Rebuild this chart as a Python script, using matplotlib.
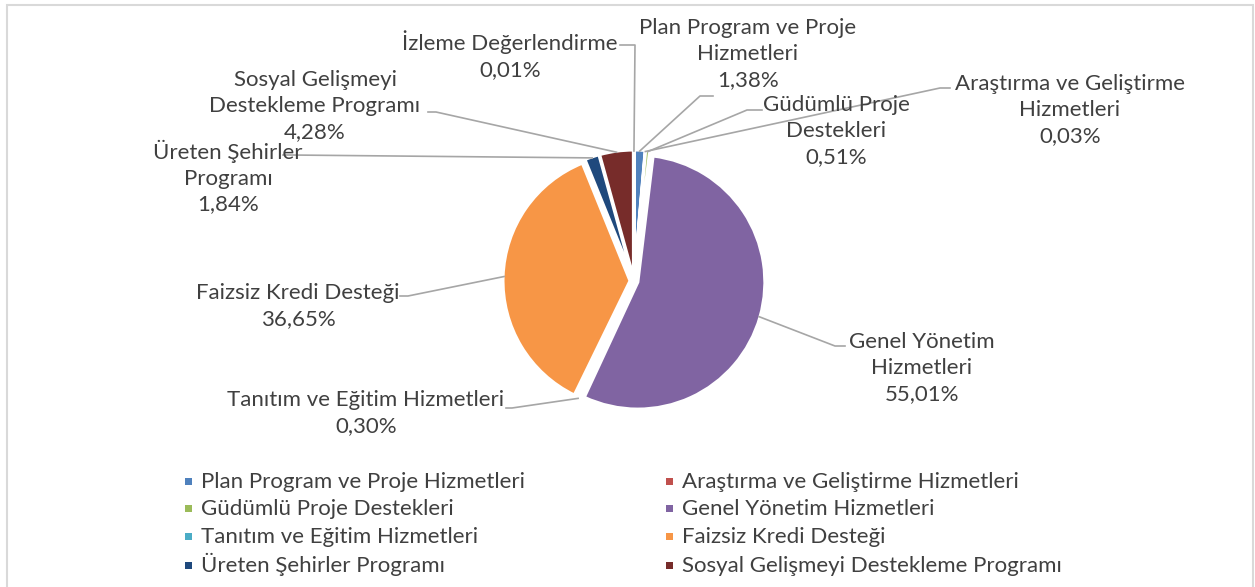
import matplotlib
matplotlib.use('Agg')
import matplotlib.pyplot as plt
import numpy as np
from matplotlib.patches import Rectangle

# data
categories = ['Plan Program ve Proje Hizmetleri', 'Araştırma ve Geliştirme Hizmetleri',
              'Güdümlü Proje Destekleri', 'Genel Yönetim Hizmetleri',
              'Tanıtım ve Eğitim Hizmetleri', 'Faizsiz Kredi Desteği',
              'Üreten Şehirler Programı', 'Sosyal Gelişmeyi Destekleme Programı',
              'İzleme Değerlendirme']
shares = [1.38, 0.03, 0.51, 55.01, 0.30, 36.65, 1.84, 4.28, 0.01]
label_names = ['Plan Program ve Proje\nHizmetleri', 'Araştırma ve Geliştirme\nHizmetleri',
               'Güdümlü Proje\nDestekleri', 'Genel Yönetim\nHizmetleri',
               'Tanıtım ve Eğitim Hizmetleri', 'Faizsiz Kredi Desteği',
               'Üreten Şehirler\nProgramı', 'Sosyal Gelişmeyi\nDestekleme Programı',
               'İzleme Değerlendirme']
slice_colors = ['#4F81BD', '#C0504D', '#9BBB59', '#8064A2', '#4BACC6',
                '#F79646', '#1F497D', '#772C2A', '#2C4D75']

# layout (image pixel coords, y down)
W, H = 1255, 587
CX, CY, R, EXPL = 634, 281, 127, 4
label_pos = [(748, 54), (1070, 110), (836, 131), (922, 368), (366, 413),
             (298, 306), (228, 177), (315, 106), (510, 55)]
leader_stub = [[(713, 96), (700, 96)], [(950, 88), (940, 88)], [(762, 110), (747, 110)],
               [(845, 346), (835, 346)], [(506, 408), (512, 408)], [(400, 296), (408, 296)],
               [(283, 155), (290, 155)], [(428, 112), (436, 112)], [(620, 45), (635, 45)]]
legend_cols = [185, 666]
legend_rows = [481, 508, 536, 565]

TEXT = '#404040'
FS = 16
plt.rcParams['font.family'] = ['Lato', 'DejaVu Sans']

fig = plt.figure(figsize=(W / 100, H / 100), dpi=100)
ax = fig.add_axes([0, 0, 1, 1])

wedges, _ = ax.pie(shares, colors=slice_colors, startangle=90, counterclock=False,
                   radius=R, center=(CX, H - CY), explode=[EXPL] * len(shares),
                   wedgeprops=dict(edgecolor='white', linewidth=2.2))
ax.set_xlim(0, W)
ax.set_ylim(0, H)
ax.set_aspect('auto')
ax.axis('off')

for i, w in enumerate(wedges):
    th = np.deg2rad((w.theta1 + w.theta2) / 2)
    ex = w.center[0] + (w.r - 1) * np.cos(th)
    ey = w.center[1] + (w.r - 1) * np.sin(th)
    xs = [p[0] for p in leader_stub[i]] + [ex]
    ys = [H - p[1] for p in leader_stub[i]] + [ey]
    ax.plot(xs, ys, color='#A6A6A6', lw=1.2, zorder=1)
    pct = f"{shares[i]:.2f}".replace('.', ',') + '%'
    lx, ly = label_pos[i]
    ax.text(lx, H - ly, label_names[i] + '\n' + pct, ha='center', va='center',
            multialignment='center', fontsize=FS, color=TEXT, linespacing=1.35, zorder=3)

# outer chart border
ax.add_patch(Rectangle((7, -10), W - 9, H - 5 + 10, fill=False,
                       edgecolor='#D9D9D9', lw=1.5, zorder=0))

# legend, two columns, filled row by row
for k in range(8):
    col, row = k % 2, k // 2
    x0, y0 = legend_cols[col], legend_rows[row]
    ax.add_patch(Rectangle((x0, H - y0 - 3.5), 7, 7, facecolor=slice_colors[k],
                           edgecolor='none'))
    ax.text(x0 + 16, H - y0 - 7, categories[k], ha='left', va='baseline',
            fontsize=FS, color=TEXT)

fig.savefig('out.png', dpi=100)
